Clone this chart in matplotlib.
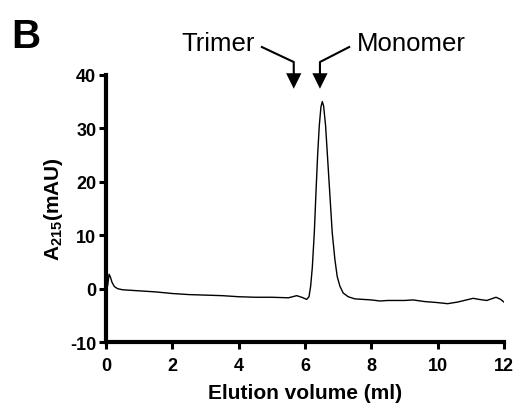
import matplotlib
matplotlib.use('Agg')
import matplotlib.pyplot as plt

plt.rcParams['font.family'] = ['Liberation Sans', 'DejaVu Sans']
plt.rcParams['mathtext.fontset'] = 'custom'
plt.rcParams['mathtext.rm'] = 'Liberation Sans'
plt.rcParams['mathtext.bf'] = 'Liberation Sans:bold'
plt.rcParams['axes.unicode_minus'] = False

# Chromatogram trace (elution volume in ml, A215 in mAU)
volume = [0.0, 0.05, 0.09, 0.13, 0.18, 0.25, 0.35, 0.5, 1.0, 1.5, 2.0, 2.5, 3.0,
          3.5, 4.0, 4.5, 5.0, 5.5, 5.75, 5.9, 6.05, 6.12, 6.17, 6.22, 6.28, 6.33,
          6.38, 6.43, 6.48, 6.52, 6.56, 6.62, 6.68, 6.75, 6.82, 6.9, 6.97, 7.05,
          7.15, 7.3, 7.5, 8.0, 8.26, 8.5, 9.0, 9.26, 9.6, 10.0, 10.3, 10.6, 11.07,
          11.25, 11.48, 11.76, 11.9, 12.0]
absorb = [0.3, 0.6, 2.7, 2.2, 1.2, 0.4, 0.0, -0.2, -0.4, -0.6, -0.9, -1.1, -1.2,
          -1.3, -1.5, -1.6, -1.6, -1.7, -1.3, -1.6, -2.0, -1.5, 0.5, 4.0, 10.5,
          18.0, 25.0, 30.5, 34.0, 35.0, 34.2, 30.5, 24.5, 17.5, 10.5, 5.5, 2.3,
          0.5, -0.8, -1.5, -1.9, -2.1, -2.3, -2.2, -2.2, -2.1, -2.4, -2.6, -2.8,
          -2.5, -1.8, -2.0, -2.2, -1.6, -2.0, -2.5]

x_ticks = [0, 2, 4, 6, 8, 10, 12]
y_ticks = [-10, 0, 10, 20, 30, 40]

# peak markers
trimer_x = 5.66
monomer_x = 6.45

fig = plt.figure(figsize=(5.25, 4.1), dpi=100)
ax = fig.add_axes([0.202, 0.163, 0.758, 0.652])

ax.plot(volume, absorb, color='black', lw=1.0)

ax.set_xlim(0, 12)
ax.set_ylim(-10, 40)
ax.set_xticks(x_ticks)
ax.set_yticks(y_ticks)
for s in ['top', 'right']:
    ax.spines[s].set_visible(False)
for s in ['left', 'bottom']:
    ax.spines[s].set_linewidth(3.0)
ax.tick_params(width=2.2, length=5, labelsize=13, pad=2)
ax.tick_params(axis='x', pad=6)
for lab in ax.get_xticklabels() + ax.get_yticklabels():
    lab.set_fontweight('bold')

ax.set_xlabel('Elution volume (ml)', fontsize=15, fontweight='bold', labelpad=6)
ax.set_ylabel(r'A$_{\mathbf{215}}$(mAU)', fontsize=15, fontweight='bold', labelpad=4)

# arrows with bent leader lines
arrow_kw = dict(color='black', lw=1.5, clip_on=False)
ax.plot([4.70, trimer_x, trimer_x], [45.2, 42.4, 40.0], **arrow_kw)
ax.plot([7.33, monomer_x, monomer_x], [45.2, 42.4, 40.0], **arrow_kw)
for xa in [trimer_x, monomer_x]:
    ax.fill([xa - 0.23, xa + 0.23, xa], [40.3, 40.3, 37.4], color='black',
            clip_on=False, lw=0)

ax.text(4.49, 45.9, 'Trimer', fontsize=18.5, ha='right', va='center')
ax.text(7.57, 45.9, 'Monomer', fontsize=18.5, ha='left', va='center')

fig.text(0.022, 0.955, 'B', fontsize=29, fontweight='bold', ha='left', va='top')

fig.savefig('out.png', dpi=100)
